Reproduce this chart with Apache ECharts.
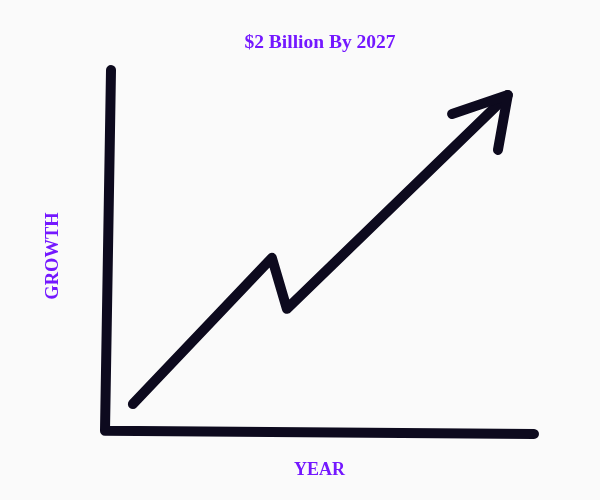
<!DOCTYPE html>
<html>
<head>
<meta charset="utf-8">
<script src="https://cdn.jsdelivr.net/npm/echarts@6/dist/echarts.min.js"></script>
<style>html,body{margin:0;padding:0;background:#fafafa;}#c{width:600px;height:500px;}</style>
</head>
<body>
<div id="c"></div>
<script>
// Hand-drawn axes (data units: 0-100 on both axes)
const axisPath = [[1.4, 100], [0, 3.0], [100, 2.15]];
// Growth line with a dip
const growthPath = [[6.5, 10.2], [38.9, 49.5], [42.4, 35.8], [93.9, 93.3]];
// Arrow head
const arrowHead = [[80.9, 88.2], [93.9, 93.3], [91.6, 78.5]];

const titleText = '$2 Billion By 2027';
const xName = 'YEAR';
const yName = 'GROWTH';

const ink = '#0d0a1e';
const purple = '#7418ff';
const font = "'Liberation Serif','Times New Roman',serif";

const lineSeries = (data) => ({
  type: 'line', data: data, showSymbol: false, symbol: 'none', clip: false,
  silent: true, animation: false,
  lineStyle: { color: ink, width: 10, cap: 'round', join: 'round' }
});

const chart = echarts.init(document.getElementById('c'));
chart.setOption({
  backgroundColor: '#fafafa',
  animation: false,
  title: {
    text: titleText, left: 320, top: 33, padding: 0, textAlign: 'center',
    textStyle: { color: purple, fontFamily: font, fontWeight: 'bold', fontSize: 19.5 }
  },
  grid: { left: 105, right: 66, top: 70, bottom: 58 },
  xAxis: {
    type: 'value', min: 0, max: 100, name: xName, nameLocation: 'middle', nameGap: 19,
    nameTextStyle: { color: purple, fontFamily: font, fontWeight: 'bold', fontSize: 18 },
    axisLine: { show: false }, axisTick: { show: false }, axisLabel: { show: false }, splitLine: { show: false }
  },
  yAxis: {
    type: 'value', min: 0, max: 100, name: yName, nameLocation: 'middle', nameGap: 42,
    nameTextStyle: { color: purple, fontFamily: font, fontWeight: 'bold', fontSize: 18.5 },
    axisLine: { show: false }, axisTick: { show: false }, axisLabel: { show: false }, splitLine: { show: false }
  },
  series: [lineSeries(axisPath), lineSeries(growthPath), lineSeries(arrowHead)]
});
</script>
</body>
</html>
